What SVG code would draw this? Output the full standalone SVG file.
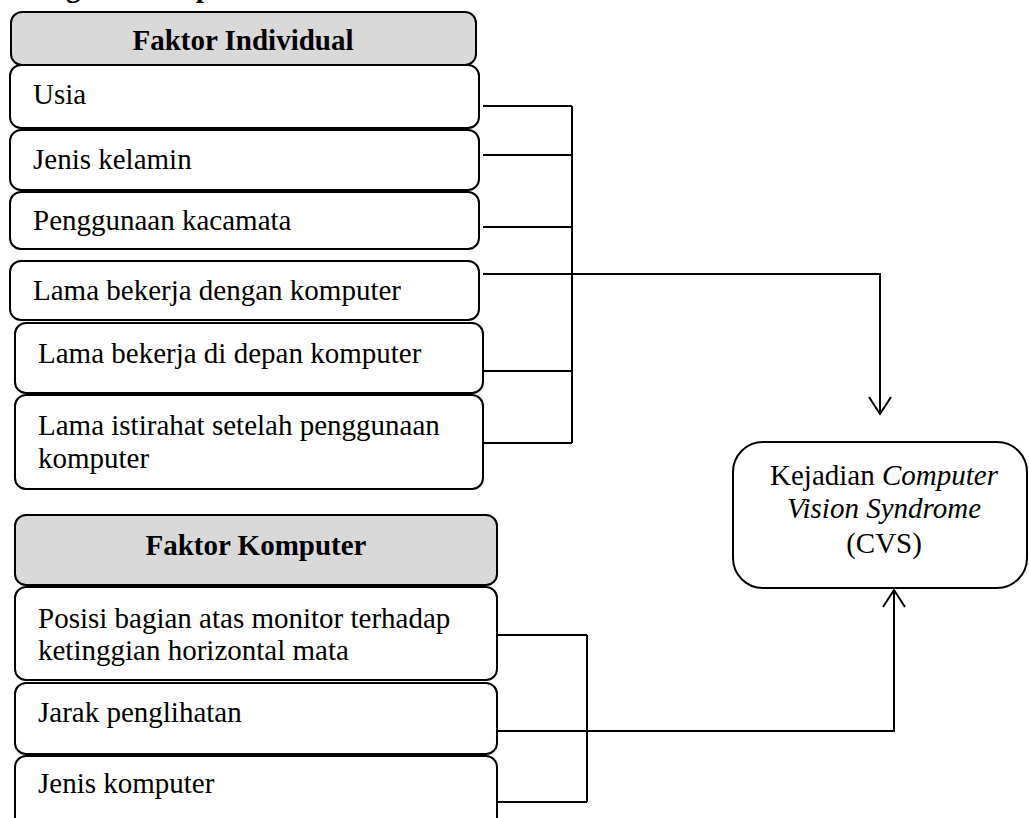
<svg xmlns="http://www.w3.org/2000/svg" width="1029" height="818" viewBox="0 0 1029 818">
<style>
.box{fill:#ffffff;stroke:#000;stroke-width:2}
.hdr{fill:#d9d9d9;stroke:#000;stroke-width:2}
.t{font-family:"Liberation Serif","Times New Roman",serif;font-size:29px;fill:#000}
.b{font-weight:bold}
.c{text-anchor:middle}
.ln{fill:none;stroke:#000;stroke-width:2}
</style>
<defs>
<marker id="arr" markerWidth="24" markerHeight="24" refX="18" refY="12" orient="auto" markerUnits="userSpaceOnUse">
<path d="M1,1 L18,12 L1,23" fill="none" stroke="#000" stroke-width="2"/>
</marker>
</defs>
<rect width="1029" height="818" fill="#fff"/>
<text class="t b" x="-13" y="-3">Kerangka Konsep</text>

<g id="faktor-individual">
<rect class="hdr" x="11" y="12" width="465" height="53" rx="11"/>
<text class="t b c" x="243" y="50">Faktor Individual</text>
</g>
<g id="usia">
<rect class="box" x="10" y="65" width="469" height="63" rx="11"/>
<text class="t" x="33" y="104">Usia</text>
</g>
<g id="jenis-kelamin">
<rect class="box" x="10" y="130" width="469" height="60" rx="11"/>
<text class="t" x="33" y="169">Jenis kelamin</text>
</g>
<g id="penggunaan-kacamata">
<rect class="box" x="10" y="192" width="469" height="57" rx="11"/>
<text class="t" x="33" y="230">Penggunaan kacamata</text>
</g>
<g id="lama-bekerja-dengan">
<rect class="box" x="10" y="261" width="469" height="59" rx="11"/>
<text class="t" x="33" y="300">Lama bekerja dengan komputer</text>
</g>
<g id="lama-bekerja-di-depan">
<rect class="box" x="15" y="323" width="468" height="70" rx="11"/>
<text class="t" x="38" y="363">Lama bekerja di depan komputer</text>
</g>
<g id="lama-istirahat">
<rect class="box" x="15" y="395" width="468" height="94" rx="11"/>
<text class="t" x="38" y="435">Lama istirahat setelah penggunaan</text>
<text class="t" x="38" y="468">komputer</text>
</g>

<g id="faktor-komputer">
<rect class="hdr" x="15" y="515" width="482" height="70" rx="11"/>
<text class="t b c" x="256" y="555">Faktor Komputer</text>
</g>
<g id="posisi-monitor">
<rect class="box" x="15" y="587" width="482" height="93" rx="11"/>
<text class="t" x="38" y="628">Posisi bagian atas monitor terhadap</text>
<text class="t" x="38" y="660">ketinggian horizontal mata</text>
</g>
<g id="jarak-penglihatan">
<rect class="box" x="15" y="683" width="482" height="71" rx="11"/>
<text class="t" x="38" y="722">Jarak penglihatan</text>
</g>
<g id="jenis-komputer">
<rect class="box" x="15" y="756" width="482" height="80" rx="11"/>
<text class="t" x="38" y="793">Jenis komputer</text>
</g>

<g id="cvs">
<rect class="box" x="733" y="442" width="294" height="146" rx="30"/>
<text class="t c" x="884" y="485">Kejadian <tspan font-style="italic">Computer</tspan></text>
<text class="t c" x="884" y="518" font-style="italic">Vision Syndrome</text>
<text class="t c" x="884" y="553">(CVS)</text>
</g>

<g id="connectors">
<path class="ln" d="M483,106 H572 M483,155 H572 M483,227 H572 M483,371 H572 M483,443 H572 M572,106 V443"/>
<path class="ln" d="M483,274 H880 V414" marker-end="url(#arr)"/>
<path class="ln" d="M497,635 H587 M497,802 H587 M587,635 V802"/>
<path class="ln" d="M497,731 H894 V590" marker-end="url(#arr)"/>
</g>
</svg>
